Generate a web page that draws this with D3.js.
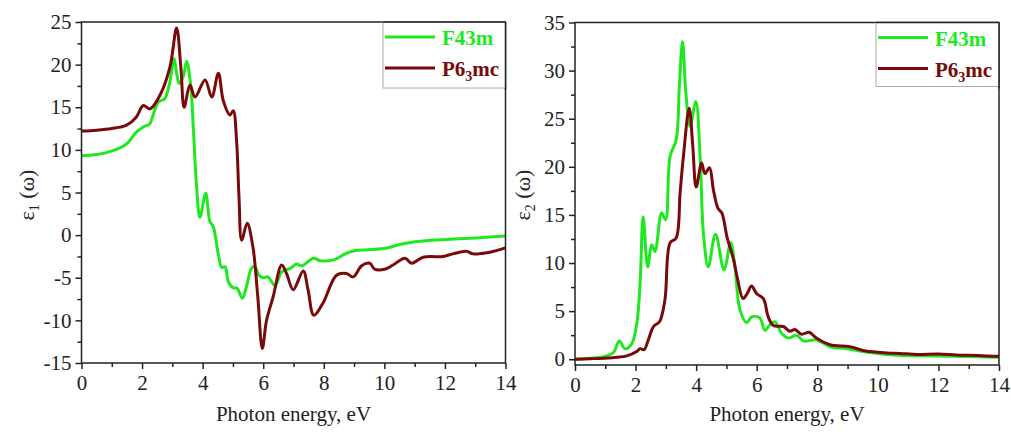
<!DOCTYPE html>
<html><head><meta charset="utf-8">
<script src="https://cdnjs.cloudflare.com/ajax/libs/d3/7.8.5/d3.min.js"></script>
<style>body{margin:0;background:#fff}svg{display:block}text{font-family:"Liberation Serif","Times New Roman",serif}</style>
</head><body><svg id="c" width="1011" height="434"></svg>
<script>
// ---- Data ----
const seriesNames = ["F43m", "P6\u2083mc"];
const seriesColors = ["#1ee81e", "#7a0a0a"];
const xTicks = [0, 2, 4, 6, 8, 10, 12, 14];
const y1Ticks = [-15, -10, -5, 0, 5, 10, 15, 20, 25];
const y2Ticks = [0, 5, 10, 15, 20, 25, 30, 35];

// eps1, F43m
const e1GreenE = [0, 0.5, 0.94, 1.25, 1.49, 1.82, 2.1, 2.24, 2.42, 2.53, 2.64, 2.75, 2.92, 3.05, 3.15, 3.23, 3.36, 3.47, 3.6, 3.69, 3.8, 3.91, 4.1, 4.24, 4.35, 4.52, 4.63, 4.74, 4.85, 5.02, 5.13, 5.31, 5.45, 5.61, 5.72, 5.86, 5.99, 6.15, 6.39, 6.61, 6.89, 7.1, 7.27, 7.66, 7.88, 8.32, 8.76, 9.04, 9.54, 10.08, 10.51, 10.95, 12.05, 13.15, 14];
const e1GreenV = [9.3, 9.45, 9.8, 10.2, 10.7, 12.1, 12.8, 13.0, 14.7, 15.6, 15.8, 16.0, 18.0, 20.7, 18.8, 17.8, 18.6, 20.4, 17.8, 12.7, 5.7, 2.1, 4.9, 1.6, 1.0, -2.3, -3.8, -3.7, -5.5, -6.2, -6.2, -7.4, -6.0, -3.9, -3.7, -4.7, -5.0, -4.9, -5.9, -4.3, -3.9, -3.4, -3.6, -2.7, -3.0, -2.9, -2.1, -1.8, -1.7, -1.5, -1.1, -0.8, -0.5, -0.3, -0.1];
// eps1, P6_3mc
const e1BrownE = [0, 0.5, 1.0, 1.49, 1.8, 2.04, 2.26, 2.59, 2.92, 3.14, 3.28, 3.39, 3.58, 3.75, 4.08, 4.3, 4.52, 4.68, 4.9, 5.01, 5.12, 5.2, 5.29, 5.47, 5.66, 5.82, 5.97, 6.11, 6.33, 6.61, 6.77, 6.99, 7.32, 7.48, 7.67, 7.97, 8.42, 8.75, 8.97, 9.25, 9.52, 9.68, 10.01, 10.29, 10.68, 10.9, 11.28, 11.93, 12.26, 12.71, 12.93, 13.48, 14];
const e1BrownV = [12.2, 12.3, 12.5, 12.9, 13.8, 15.2, 14.8, 16.4, 19.7, 24.3, 19.7, 15.0, 17.6, 16.2, 18.2, 16.2, 19.0, 15.8, 14.1, 14.6, 11.1, 4.5, -0.6, 1.4, -1.4, -7.2, -13.3, -10.0, -7.2, -3.5, -4.5, -6.4, -4.2, -6.4, -9.4, -8.0, -4.7, -4.5, -4.9, -3.6, -3.3, -4.0, -4.0, -3.5, -2.7, -3.3, -2.6, -2.5, -2.2, -1.9, -2.2, -2.0, -1.5];

// eps2, F43m
const e2GreenE = [0, 0.5, 0.94, 1.27, 1.46, 1.65, 1.87, 2.04, 2.15, 2.25, 2.4, 2.53, 2.64, 2.86, 2.99, 3.14, 3.34, 3.45, 3.55, 3.66, 3.8, 3.99, 4.13, 4.24, 4.4, 4.64, 4.92, 5.14, 5.28, 5.45, 5.67, 5.83, 6.1, 6.27, 6.44, 6.6, 6.82, 7.04, 7.32, 7.54, 7.98, 8.42, 8.97, 9.74, 10.5, 11.5, 12.5, 13.3, 14];
const e2GreenV = [0, 0.1, 0.27, 0.7, 1.9, 1.1, 1.6, 3.7, 7.9, 14.8, 9.6, 11.9, 11.2, 15.2, 14.5, 21.1, 22.8, 28.7, 33.0, 27.7, 24.2, 26.8, 21.1, 13.1, 9.6, 13.0, 9.3, 12.1, 9.6, 5.1, 3.8, 4.4, 4.3, 3.0, 3.6, 3.9, 2.7, 2.2, 2.5, 1.9, 2.0, 1.3, 1.1, 0.7, 0.45, 0.35, 0.3, 0.25, 0.2];
// eps2, P6_3mc
const e2BrownE = [0, 0.5, 0.94, 1.4, 1.71, 2.04, 2.15, 2.28, 2.42, 2.59, 2.79, 2.97, 3.14, 3.34, 3.47, 3.58, 3.77, 3.89, 4.0, 4.18, 4.29, 4.44, 4.57, 4.72, 4.85, 5.02, 5.24, 5.35, 5.55, 5.68, 5.83, 6.0, 6.22, 6.38, 6.55, 6.88, 7.1, 7.26, 7.48, 7.73, 7.97, 8.42, 9.08, 9.52, 9.74, 10.3, 10.73, 11.3, 12.0, 12.6, 13.3, 14];
const e2BrownV = [0, 0.05, 0.1, 0.2, 0.35, 0.8, 1.1, 1.0, 2.0, 3.4, 3.9, 6.2, 12.1, 12.6, 17.3, 21.1, 26.1, 22.1, 17.9, 20.4, 19.3, 19.9, 17.6, 15.7, 15.2, 12.7, 10.3, 8.6, 6.3, 6.8, 7.6, 6.8, 6.3, 4.4, 3.5, 3.4, 2.9, 3.1, 2.6, 2.8, 2.2, 1.5, 1.3, 0.9, 0.8, 0.65, 0.6, 0.5, 0.55, 0.45, 0.4, 0.3];

// ---- Drawing ----
const svg = d3.select("#c");
const fmt = d => String(d);

function panel(opts) {
  const g = svg.append("g");
  const x = d3.scaleLinear().domain([0, 14]).range([opts.left, opts.right]);
  const y = d3.scaleLinear().domain(opts.ydom).range([opts.bottom, opts.top]);
  const clipId = "clip" + opts.id;
  svg.append("clipPath").attr("id", clipId).append("rect")
    .attr("x", opts.left).attr("y", opts.top).attr("width", opts.right - opts.left).attr("height", opts.bottom - opts.top);

  const line = d3.line().x(d => x(d[0])).y(d => y(d[1])).curve(d3.curveCatmullRom.alpha(0.5));
  opts.series.forEach((s, i) => {
    g.append("path").datum(d3.zip(s[0], s[1]))
      .attr("d", line).attr("fill", "none")
      .attr("stroke", seriesColors[i]).attr("stroke-width", 3)
      .attr("stroke-linejoin", "round")
      .attr("clip-path", `url(#${clipId})`);
  });

  // frame
  g.append("rect").attr("x", opts.left).attr("y", opts.top)
    .attr("width", opts.right - opts.left).attr("height", opts.bottom - opts.top)
    .attr("fill", "none").attr("stroke", "#222").attr("stroke-width", 1.5);

  // x axis
  const xMinor = d3.range(1, 14, 2);
  const xa = g.append("g").attr("transform", `translate(0,${opts.bottom})`)
    .call(d3.axisBottom(x).tickValues(xTicks).tickSize(6).tickPadding(6).tickFormat(fmt));
  xa.select(".domain").remove();
  xa.selectAll("line").attr("stroke", "#222").attr("stroke-width", 1.5);
  xa.selectAll("text").attr("font-size", 21).attr("fill", "#222");
  g.append("g").attr("transform", `translate(0,${opts.bottom})`)
    .call(d3.axisBottom(x).tickValues(xMinor).tickSize(4).tickFormat(""))
    .call(a => { a.select(".domain").remove(); a.selectAll("line").attr("stroke", "#222").attr("stroke-width", 1.5); });

  // y axis
  const ya = g.append("g").attr("transform", `translate(${opts.left},0)`)
    .call(d3.axisLeft(y).tickValues(opts.yticks).tickSize(6).tickPadding(4).tickFormat(fmt));
  ya.select(".domain").remove();
  ya.selectAll("line").attr("stroke", "#222").attr("stroke-width", 1.5);
  ya.selectAll("text").attr("font-size", 21).attr("fill", "#222");
  const yMinor = opts.yticks.slice(0, -1).map(v => v + 2.5);
  g.append("g").attr("transform", `translate(${opts.left},0)`)
    .call(d3.axisLeft(y).tickValues(yMinor).tickSize(4).tickFormat(""))
    .call(a => { a.select(".domain").remove(); a.selectAll("line").attr("stroke", "#222").attr("stroke-width", 1.5); });

  // x title
  g.append("text").attr("x", (opts.left + opts.right) / 2).attr("y", 421)
    .attr("text-anchor", "middle").attr("font-size", 21).attr("fill", "#222").text("Photon energy, eV");

  // y title
  const yt = g.append("text").attr("transform", `translate(${opts.ytx},${opts.yty}) rotate(-90)`)
    .attr("text-anchor", "middle").attr("font-size", 22).attr("fill", "#222");
  yt.append("tspan").text("\u03b5");
  yt.append("tspan").attr("font-size", 14).attr("dy", 5).text(opts.sub);
  yt.append("tspan").attr("dy", -5).text(" (\u03c9)");

  // legend
  const lg = g.append("g");
  lg.append("rect").attr("x", opts.legX).attr("y", opts.top)
    .attr("width", opts.right - opts.legX).attr("height", opts.legH)
    .attr("fill", "#fff").attr("stroke", "#aaa").attr("stroke-width", 1);
  g.append("line").attr("x1", opts.legX).attr("x2", opts.right).attr("y1", opts.top).attr("y2", opts.top)
    .attr("stroke", "#222").attr("stroke-width", 1.5);
  g.append("line").attr("x1", opts.right).attr("x2", opts.right).attr("y1", opts.top).attr("y2", opts.top + opts.legH + 2)
    .attr("stroke", "#222").attr("stroke-width", 1.5);
  [0, 1].forEach(i => {
    const ly = opts.top + 15 + i * 31;
    lg.append("line").attr("x1", opts.legX + 2).attr("x2", opts.legX + 52)
      .attr("y1", ly).attr("y2", ly).attr("stroke", seriesColors[i]).attr("stroke-width", 3);
    const t = lg.append("text").attr("x", opts.legX + 59).attr("y", ly + 8)
      .attr("font-size", 21).attr("font-weight", "bold").attr("fill", seriesColors[i]);
    if (i === 0) t.text(seriesNames[0]);
    else {
      t.append("tspan").text("P6");
      t.append("tspan").attr("font-size", 14).attr("dy", 5).text("3");
      t.append("tspan").attr("dy", -5).text("mc");
    }
  });
}

panel({ id: 1, left: 81.5, right: 505.5, top: 22, bottom: 363, ydom: [-15, 25], yticks: y1Ticks,
  series: [[e1GreenE, e1GreenV], [e1BrownE, e1BrownV]], sub: "1", ytx: 34, yty: 195,
  legX: 383, legH: 66 });
panel({ id: 2, left: 575, right: 999, top: 22.5, bottom: 365, ydom: [-0.6, 35], yticks: y2Ticks,
  series: [[e2GreenE, e2GreenV], [e2BrownE, e2BrownV]], sub: "2", ytx: 530, yty: 195,
  legX: 876, legH: 64 });
</script></body></html>
